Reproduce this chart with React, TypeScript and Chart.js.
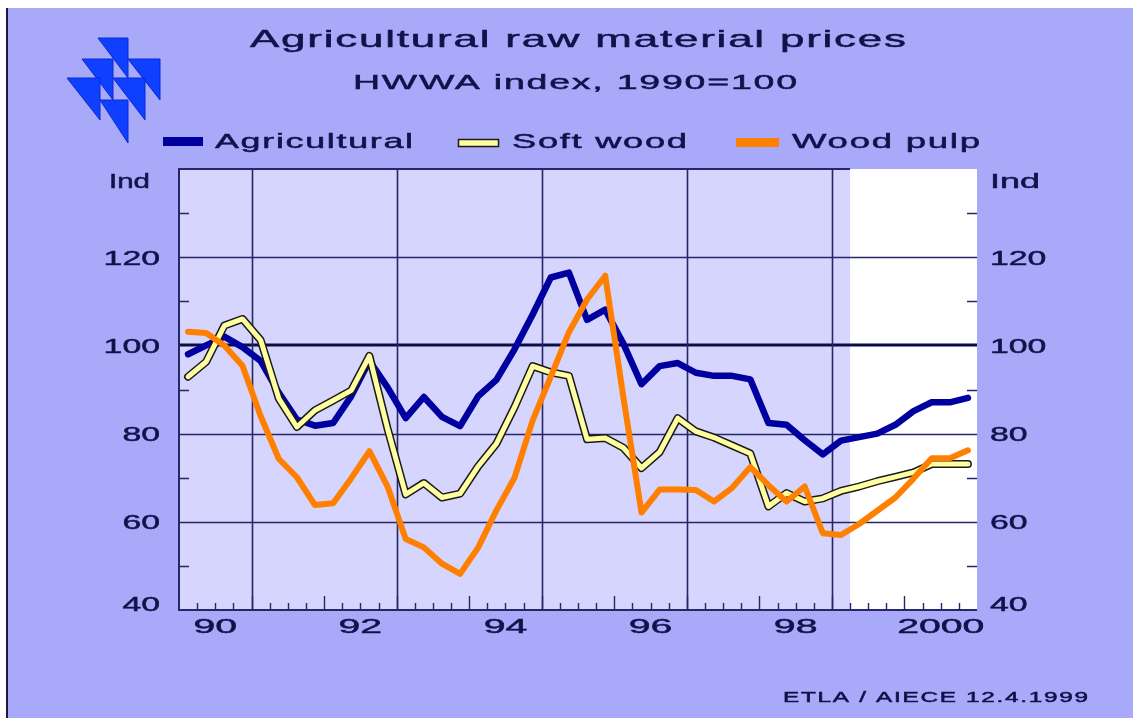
import { useEffect, useRef } from 'react';
import { Chart, registerables } from 'chart.js';

Chart.register(...registerables);

// ---------- data ----------
const YEARS = [1990, 1991, 1992, 1993, 1994, 1995, 1996, 1997, 1998, 1999, 2000];
const QUARTERS = YEARS.flatMap((y) => ['Q1', 'Q2', 'Q3', 'Q4'].map((q) => `${y} ${q}`));

const AGRICULTURAL = [
  98, 100, 102, 99.6, 96.5, 89.3, 83.2, 81.8, 82.4, 88.5,
  96.5, 90.5, 83.5, 88.3, 83.8, 81.7, 88.5, 92.2, 99.1, 107,
  115.4, 116.5, 105.8, 108.1, 100.4, 91.2, 95.3, 96, 93.8, 93.1,
  93.1, 92.3, 82.4, 82, 78.5, 75.3, 78.4, 79.2, 80, 82,
  85.1, 87.1, 87.1, 88.1,
];
const SOFT_WOOD = [
  92.9, 96.3, 104.5, 106, 101.2, 88, 81.5, 85.3, 87.5, 89.8,
  97.6, 81.1, 66.2, 68.8, 65.5, 66.4, 72.6, 77.7, 86, 95.3,
  93.9, 93.1, 78.7, 79, 76.8, 72.2, 75.8, 83.5, 80.5, 79.1,
  77.3, 75.5, 63.5, 66.5, 64.6, 65.3, 67, 68, 69.2, 70.2,
  71.2, 73.1, 73.1, 73.1,
];
const WOOD_PULP = [
  103.1, 102.8, 100, 95.4, 84, 74.3, 70.1, 63.8, 64.2, 69.9,
  76, 68, 56.1, 54.2, 50.5, 48.2, 54.2, 62.6, 70, 83,
  92.9, 103, 110.4, 115.8, 88.3, 62.1, 67.3, 67.3, 67.2, 64.6,
  67.7, 72.4, 68.3, 64.6, 68, 57.4, 57, 59.5, 62.5, 65.5,
  69.8, 74.4, 74.4, 76.2,
];

const Y_TICKS = [40, 60, 80, 100, 120];
const Y_TOP_LABEL = 'Ind';
const Y_MINOR = [50, 70, 90, 110, 130];
const Y_GRID = [60, 80, 120];
const Y_BASE = 100;
const X_TICK_LABELS = ['90', '92', '94', '96', '98', '2000'];
const X_TICK_YEARS = [1990, 1992, 1994, 1996, 1998, 2000];
const GRID_YEARS = [1991, 1993, 1995, 1997, 1999];
const FORECAST_START = '1999 Q2';

const TITLE = 'Agricultural raw material prices';
const SUBTITLE = 'HWWA index, 1990=100';
const SOURCE = 'ETLA / AIECE 12.4.1999';
const LEGEND = ['Agricultural', 'Soft wood', 'Wood pulp'];

// ---------- style ----------
const FONT = '"Liberation Sans", Arial, Helvetica, sans-serif';
const INK = '#12124a';
const GRID_INK = '#262668';
const BG = '#a9a9fa';
const PLOT_BG = '#d5d5fd';
const BLUE = '#0000a0';
const YELLOW = '#ffffa0';
const OUTLINE = '#1a1a1a';
const ORANGE = '#ff8000';

const W = 1125;
const H = 710;

type Align = 'left' | 'center' | 'right';

function fitText(
  ctx: CanvasRenderingContext2D,
  text: string,
  x: number,
  baseline: number,
  size: number,
  width: number,
  align: Align,
  spacing = 0,
) {
  ctx.save();
  ctx.font = `${size}px ${FONT}`;
  (ctx as any).letterSpacing = `${spacing}px`;
  const w = ctx.measureText(text).width - spacing;
  const sx = width / w;
  const left = align === 'left' ? x : align === 'center' ? x - width / 2 : x - width;
  ctx.translate(left, baseline);
  ctx.scale(sx, 1);
  ctx.textAlign = 'left';
  ctx.textBaseline = 'alphabetic';
  ctx.fillStyle = INK;
  ctx.strokeStyle = INK;
  ctx.lineWidth = 0.5;
  ctx.fillText(text, 0, 0);
  ctx.strokeText(text, 0, 0);
  ctx.restore();
}

// index on the category scale of the start of a year (quarter boundary)
const yearStart = (y: number) => (y - 1990) * 4 - 0.5;

const decorPlugin = {
  id: 'decor',
  beforeDraw(chart: any) {
    const { ctx, chartArea: a, scales } = chart;
    const x = scales.x;
    ctx.save();
    ctx.fillStyle = BG;
    ctx.fillRect(0, 0, W, H);
    const shadeEnd = x.getPixelForValue(QUARTERS.indexOf(FORECAST_START) - 0.5);
    ctx.fillStyle = PLOT_BG;
    ctx.fillRect(a.left, a.top, shadeEnd - a.left, a.bottom - a.top);
    ctx.fillStyle = '#ffffff';
    ctx.fillRect(shadeEnd, a.top, a.right - shadeEnd, a.bottom - a.top);
    ctx.restore();
  },
  beforeDatasetsDraw(chart: any) {
    const { ctx, chartArea: a, scales } = chart;
    const x = scales.x;
    const y = scales.y;
    ctx.save();
    ctx.strokeStyle = GRID_INK;
    // horizontal grid
    ctx.lineWidth = 1.6;
    Y_GRID.forEach((v) => {
      const py = Math.round(y.getPixelForValue(v)) + 0.5;
      ctx.beginPath();
      ctx.moveTo(a.left, py);
      ctx.lineTo(a.right, py);
      ctx.stroke();
    });
    ctx.strokeStyle = '#0c0c46';
    ctx.lineWidth = 3;
    const pb = Math.round(y.getPixelForValue(Y_BASE));
    ctx.beginPath();
    ctx.moveTo(a.left, pb);
    ctx.lineTo(a.right, pb);
    ctx.stroke();
    // vertical grid
    ctx.strokeStyle = GRID_INK;
    ctx.lineWidth = 1.6;
    GRID_YEARS.forEach((yr) => {
      const px = Math.round(x.getPixelForValue(yearStart(yr))) + 0.5;
      ctx.beginPath();
      ctx.moveTo(px, a.top);
      ctx.lineTo(px, a.bottom);
      ctx.stroke();
    });
    // frame
    const shadeEnd = x.getPixelForValue(QUARTERS.indexOf(FORECAST_START) - 0.5);
    ctx.lineWidth = 2;
    ctx.beginPath();
    ctx.moveTo(shadeEnd, a.top);
    ctx.lineTo(a.left, a.top);
    ctx.lineTo(a.left, a.bottom);
    ctx.lineTo(a.right, a.bottom);
    ctx.stroke();
    // x ticks (quarters short, years long)
    ctx.lineWidth = 1.4;
    for (let k = 1; k < QUARTERS.length; k++) {
      const px = Math.round(x.getPixelForValue(k - 0.5)) + 0.5;
      const len = k % 4 === 0 ? 14 : 7;
      ctx.beginPath();
      ctx.moveTo(px, a.bottom);
      ctx.lineTo(px, a.bottom - len);
      ctx.stroke();
    }
    // y minor ticks both sides
    Y_MINOR.forEach((v) => {
      const py = Math.round(y.getPixelForValue(v)) + 0.5;
      ctx.beginPath();
      ctx.moveTo(a.left, py);
      ctx.lineTo(a.left + 10, py);
      ctx.moveTo(a.right, py);
      ctx.lineTo(a.right - 10, py);
      ctx.stroke();
    });
    ctx.restore();
  },
  afterDraw(chart: any) {
    const { ctx, chartArea: a, scales } = chart;
    const x = scales.x;
    const y = scales.y;
    const size = 21;
    const capHalf = 7.5;
    // y labels
    Y_TICKS.forEach((v) => {
      const yc = Math.min(y.getPixelForValue(v), a.bottom - 7);
      const wdt = String(v).length * 18.8;
      fitText(ctx, String(v), 152, yc + capHalf, size, wdt, 'right');
      fitText(ctx, String(v), 982, yc + capHalf, size, wdt, 'left');
    });
    const yTop = y.getPixelForValue(y.max) + 11;
    fitText(ctx, Y_TOP_LABEL, 142, yTop + capHalf, size, 41, 'right');
    fitText(ctx, Y_TOP_LABEL, 982, yTop + capHalf, size, 50, 'left');
    // x labels
    X_TICK_YEARS.forEach((yr, i) => {
      const px = x.getPixelForValue(yearStart(yr) + 2);
      const lbl = X_TICK_LABELS[i];
      fitText(ctx, lbl, px, 625, size, lbl.length * 21.8, 'center');
    });
    // titles
    fitText(ctx, TITLE, 242, 39, 24, 656, 'left', 1);
    fitText(ctx, SUBTITLE, 345, 81, 21, 444, 'left', 1);
    // legend
    ctx.save();
    ctx.fillStyle = BLUE;
    ctx.fillRect(155, 129, 40, 9);
    ctx.fillStyle = YELLOW;
    ctx.strokeStyle = OUTLINE;
    ctx.lineWidth = 1.5;
    ctx.fillRect(450, 131, 40, 7);
    ctx.strokeRect(450.5, 131.5, 40, 7);
    ctx.fillStyle = ORANGE;
    ctx.fillRect(728, 130, 43, 9);
    ctx.restore();
    fitText(ctx, LEGEND[0], 207, 140, 21, 198, 'left', 1);
    fitText(ctx, LEGEND[1], 504, 140, 21, 175, 'left', 1);
    fitText(ctx, LEGEND[2], 784, 140, 21, 188, 'left', 1);
    // source
    fitText(ctx, SOURCE, 775, 694, 14, 305, 'left', 1);
    // logo
    const tris = [
      [90, 30, 30, 40],
      [74, 51, 31, 41],
      [120, 51, 32, 41],
      [59, 70, 33, 42],
      [105, 70, 32, 42],
      [92, 92, 28, 43],
    ];
    ctx.save();
    ctx.fillStyle = '#1040ff';
    ctx.strokeStyle = '#0a28d0';
    ctx.lineWidth = 1;
    tris.forEach(([tx, ty, tw, th]) => {
      ctx.beginPath();
      ctx.moveTo(tx, ty);
      ctx.lineTo(tx + tw, ty);
      ctx.lineTo(tx + tw, ty + th);
      ctx.closePath();
      ctx.fill();
      ctx.stroke();
    });
    ctx.restore();
  },
};

export default function App() {
  const ref = useRef<HTMLCanvasElement | null>(null);

  useEffect(() => {
    if (!ref.current) return;
    const line = (label: string, data: number[], color: string, width: number, order: number) => ({
      label,
      data,
      borderColor: color,
      backgroundColor: color,
      borderWidth: width,
      pointRadius: 0,
      tension: 0,
      fill: false,
      order,
      borderJoinStyle: 'round' as const,
      borderCapStyle: 'round' as const,
    });
    const chart = new Chart(ref.current, {
      type: 'line',
      data: {
        labels: QUARTERS,
        datasets: [
          line(LEGEND[0], AGRICULTURAL, BLUE, 6.5, 4),
          line(LEGEND[1] + ' outline', SOFT_WOOD, OUTLINE, 8, 3),
          line(LEGEND[1], SOFT_WOOD, YELLOW, 5, 2),
          line(LEGEND[2], WOOD_PULP, ORANGE, 6, 1),
        ],
      },
      options: {
        responsive: false,
        animation: false,
        devicePixelRatio: 1,
        layout: { padding: { left: 171, right: 156, top: 161, bottom: 108 } },
        scales: {
          x: { type: 'category', display: false, offset: true },
          y: { type: 'linear', display: false, min: 40, max: 140 },
        },
        plugins: {
          legend: { display: false },
          title: { display: false },
          tooltip: { enabled: false },
        },
      },
      plugins: [decorPlugin],
    });
    return () => chart.destroy();
  }, []);

  return (
    <div
      style={{
        position: 'fixed',
        left: 6,
        top: 8,
        width: W + 2,
        height: H,
        borderLeft: '2px solid #1a1a40',
        background: BG,
      }}
    >
      <canvas ref={ref} width={W} height={H} style={{ display: 'block', width: W, height: H }} />
    </div>
  );
}
